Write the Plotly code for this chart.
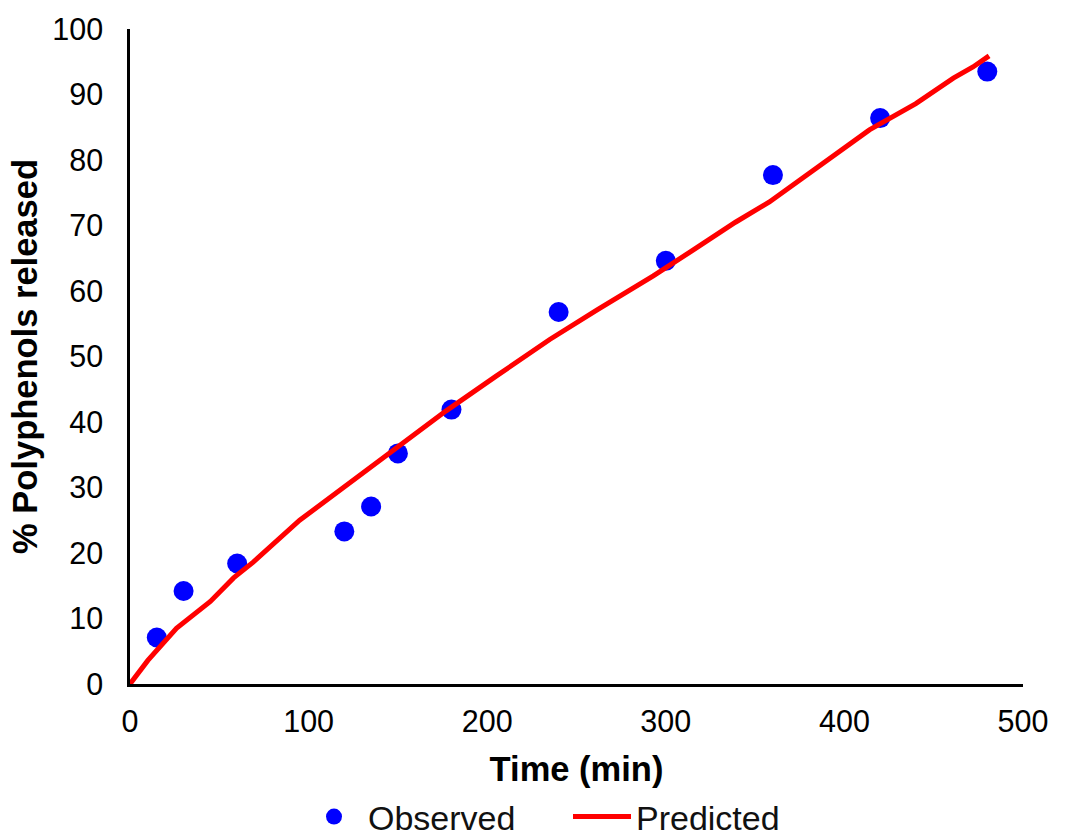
import plotly.graph_objects as go

# Observed release data
obs_time = [15, 30, 60, 120, 135, 150, 180, 240, 300, 360, 420, 480]
obs_release = [7.1, 14.2, 18.4, 23.3, 27.1, 35.2, 41.9, 56.8, 64.6, 77.7, 86.4, 93.5]

# Predicted release curve
pred_time = [0, 10, 26, 45, 58, 69, 95, 123, 151, 177, 205, 235, 262, 293, 315, 339, 358, 377, 396, 414, 440, 461, 472, 481]
pred_release = [0, 3.6, 8.5, 12.6, 16.2, 18.6, 25.0, 30.7, 36.2, 41.7, 47.0, 52.6, 57.2, 62.3, 66.2, 70.5, 73.6, 77.4, 81.0, 84.6, 88.6, 92.5, 94.2, 95.9]

x_ticks = [0, 100, 200, 300, 400, 500]
y_ticks = [0, 10, 20, 30, 40, 50, 60, 70, 80, 90, 100]

font_family = "Liberation Sans, Arial, sans-serif"

fig = go.Figure()
fig.add_trace(go.Scatter(
    x=obs_time, y=obs_release, mode="markers", name="Observed",
    marker=dict(color="#0000FF", size=20, line=dict(width=0)),
))
fig.add_trace(go.Scatter(
    x=pred_time, y=pred_release, mode="lines", name="Predicted",
    line=dict(color="#FF0000", width=5),
))

fig.update_layout(
    width=1072, height=838,
    margin=dict(l=130, r=49, t=29, b=154),
    paper_bgcolor="white", plot_bgcolor="white",
    font=dict(family=font_family, color="black"),
    showlegend=True,
    legend=dict(
        orientation="h",
        xref="container", x=300 / 1072, xanchor="left",
        yref="container", y=(838 - 817) / 838, yanchor="middle",
        font=dict(size=34, color="#111111"), itemwidth=58,
        entrywidth=195, entrywidthmode="pixels",
        traceorder="normal",
    ),
)
fig.update_xaxes(
    range=[0, 500], tickvals=x_ticks, ticktext=[str(v) for v in x_ticks],
    showline=True, linecolor="black", linewidth=2.5, showgrid=False, zeroline=False,
    ticks="", tickfont=dict(size=30.5, color="black"), ticklabelstandoff=9,
    title=dict(text="<b>Time (min)</b>", font=dict(size=34.5, color="black"), standoff=20),
    automargin=False,
)
fig.update_yaxes(
    range=[0, 100], tickvals=y_ticks, ticktext=[str(v) for v in y_ticks],
    showline=True, linecolor="black", linewidth=2.5, showgrid=False, zeroline=False,
    ticks="", tickfont=dict(size=30.5, color="black"), ticklabelstandoff=18,
    title=dict(text="<b>% Polyphenols released</b>", font=dict(size=34.5, color="black"), standoff=5),
    automargin=False,
)

fig.write_html("out.html")
